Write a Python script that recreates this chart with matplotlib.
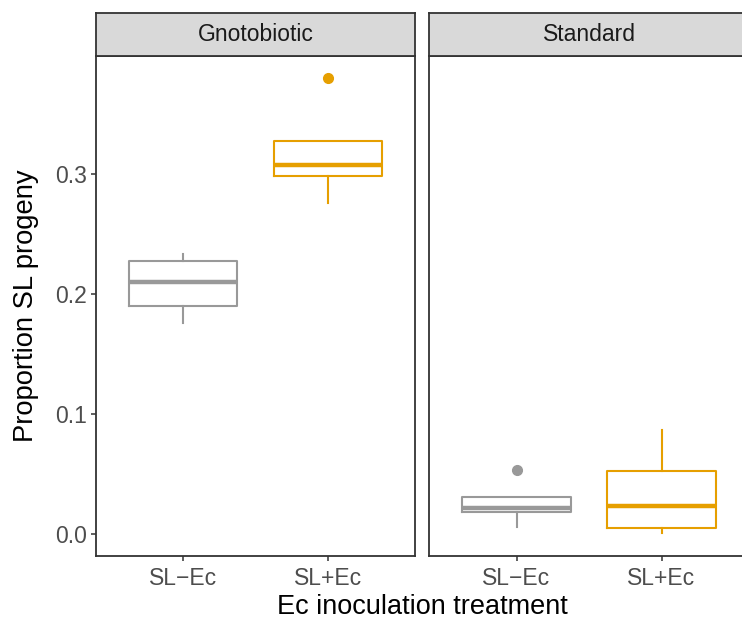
import matplotlib
matplotlib.use("Agg")
import matplotlib.pyplot as plt

plt.rcParams['font.family'] = ['Liberation Sans', 'DejaVu Sans']

# Data (box statistics per facet)
facets = ["Gnotobiotic", "Standard"]
treatments = ["SL\u2212Ec", "SL+Ec"]
colors = ["#999999", "#E69F00"]

# [SL-Ec, SL+Ec] for each facet
whisker_low = {"Gnotobiotic": [0.176, 0.276], "Standard": [0.006, 0.0006]}
q1 = {"Gnotobiotic": [0.190, 0.298], "Standard": [0.018, 0.005]}
median = {"Gnotobiotic": [0.210, 0.307], "Standard": [0.022, 0.0236]}
q3 = {"Gnotobiotic": [0.227, 0.327], "Standard": [0.0306, 0.0528]}
whisker_high = {"Gnotobiotic": [0.233, 0.327], "Standard": [0.0306, 0.0867]}
outliers = {"Gnotobiotic": [[], [0.380]], "Standard": [[0.0536], []]}

W, H = 742, 621
fig = plt.figure(figsize=(W / 100, H / 100), dpi=100)

panel_left = [96, 429.5]
panel_w = 319
panel_top, panel_bot = 56, 556
strip_top = 13
edge = "#333333"

for k, facet in enumerate(facets):
    x0 = panel_left[k]
    ax = fig.add_axes([x0 / W, (H - panel_bot) / H, panel_w / W, (panel_bot - panel_top) / H])
    sax = fig.add_axes([x0 / W, (H - panel_top) / H, panel_w / W, (panel_top - strip_top) / H])

    for i in range(len(treatments)):
        stats = [{
            "whislo": whisker_low[facet][i], "q1": q1[facet][i], "med": median[facet][i],
            "q3": q3[facet][i], "whishi": whisker_high[facet][i], "fliers": outliers[facet][i],
        }]
        c = colors[i]
        ax.bxp(stats, positions=[i + 1], widths=0.75, showcaps=False,
               boxprops=dict(color=c, linewidth=1.5),
               whiskerprops=dict(color=c, linewidth=1.5),
               medianprops=dict(color=c, linewidth=3.2, solid_capstyle='butt'),
               flierprops=dict(marker='o', markerfacecolor=c, markeredgecolor=c, markersize=7))

    ax.set_xlim(0.4, 2.6)
    ax.set_ylim(-0.0183, 0.398)
    ax.set_xticks([1, 2])
    ax.set_xticklabels(treatments, fontsize=16.5, color="#4D4D4D")
    ax.set_yticks([0.0, 0.1, 0.2, 0.3])
    ax.set_yticklabels(["0.0", "0.1", "0.2", "0.3"], fontsize=16.5, color="#4D4D4D")
    ax.tick_params(length=3.8, width=1.1, color=edge)
    ax.tick_params(axis='x', pad=4)
    ax.tick_params(axis='y', pad=3)
    if k > 0:
        ax.tick_params(axis='y', left=False, labelleft=False)
    for sp in ax.spines.values():
        sp.set_color(edge)
        sp.set_linewidth(1.3)

    sax.set_facecolor("#D9D9D9")
    sax.set_xticks([])
    sax.set_yticks([])
    for sp in sax.spines.values():
        sp.set_color(edge)
        sp.set_linewidth(1.3)
    sax.text(0.5, 0.5, facet, ha='center', va='center', fontsize=16.5,
             color="#1A1A1A", transform=sax.transAxes)

fig.text((96 + 748) / 2 / W, (H - 614) / H, "Ec inoculation treatment",
         ha='center', va='baseline', fontsize=19.5)
fig.text(26 / W, (H - 305.5) / H, "Proportion SL progeny", rotation=90,
         ha='center', va='center', fontsize=19.7)

fig.savefig("out.png", dpi=100)
